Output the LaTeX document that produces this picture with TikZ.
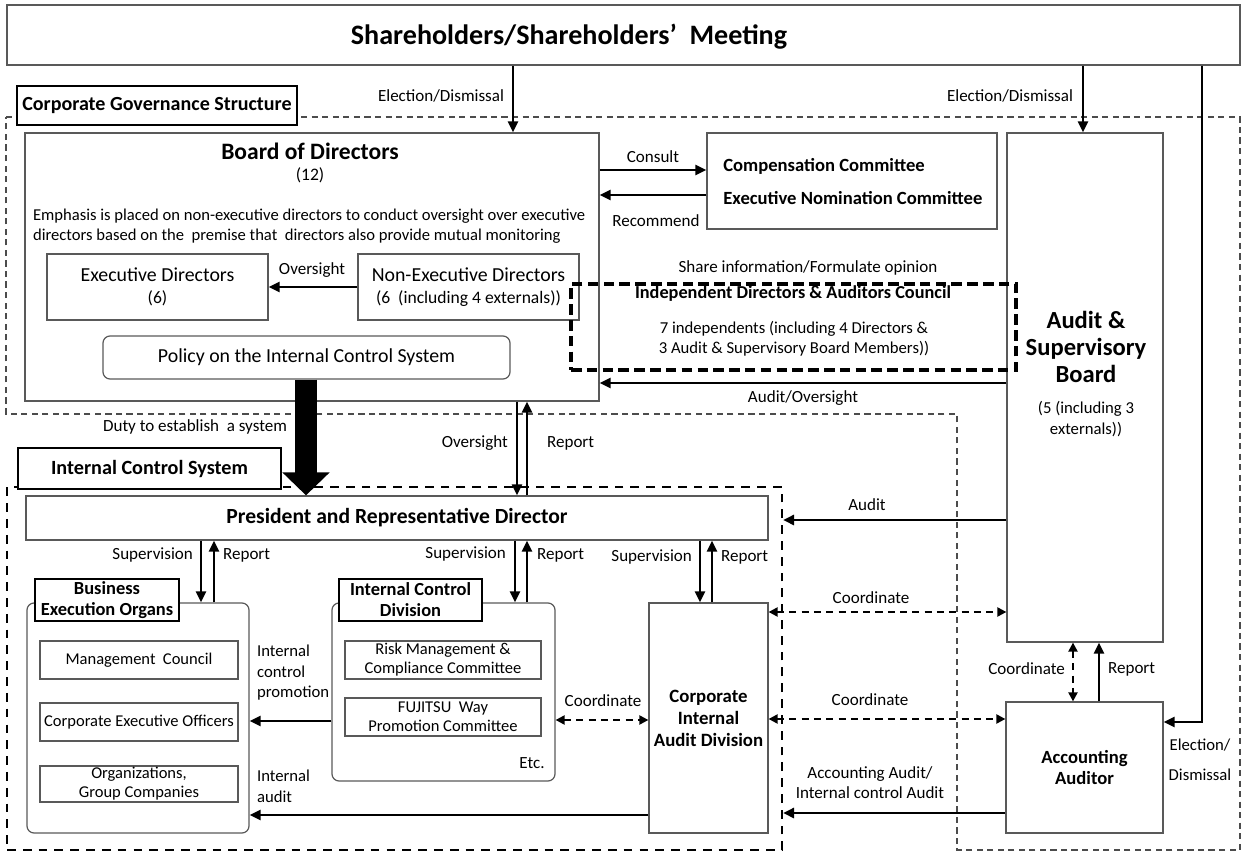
\documentclass[tikz,border=0pt]{standalone}
\usepackage{fontspec}
\setmainfont{Carlito}
\usetikzlibrary{arrows.meta,positioning,fit,calc}
\tikzset{
  box/.style={rectangle, draw=black!65, line width=0.7pt, inner sep=0pt},
  rbox/.style={box, rounded corners=4pt},
  tagbox/.style={rectangle, draw, line width=1.1pt, fill=white, inner sep=0pt},
  txt/.style={inner sep=0pt, align=center, font=\fontsize{11.3}{13.5}\selectfont},
  btxt/.style={inner sep=0pt, align=center, font=\fontsize{11.4}{13}\selectfont\bfseries},
  tagtxt/.style={inner sep=0pt, align=center, font=\fontsize{10.5}{12}\selectfont\bfseries},
  stxt/.style={inner sep=0pt, align=center, font=\fontsize{9.4}{10.8}\selectfont},
  lbl/.style={font=\fontsize{9.7}{11.5}\selectfont, align=center, inner sep=1pt},
  llbl/.style={lbl, align=left, anchor=north west},
  arrow/.style={-{Triangle[length=2.2mm,width=2mm]}, line width=1.5pt},
  dasharrow/.style={{Triangle[length=1.8mm,width=1.8mm]}-{Triangle[length=1.8mm,width=1.8mm]},
                    line width=1.2pt, dash pattern=on 4pt off 3pt},
  cgframe/.style={draw=black!70, line width=0.7pt, dash pattern=on 3.5pt off 2.5pt},
  icsframe/.style={rectangle, inner sep=0pt, draw, line width=1.2pt, dash pattern=on 5pt off 4pt},
  cnframe/.style={rectangle, inner sep=0pt, draw, line width=1.8pt, dash pattern=on 6pt off 3pt}
}

\begin{document}
\begin{tikzpicture}[x=0.02cm, y=-0.02cm]
\useasboundingbox (0,0) rectangle (1242,852);
% corporate governance region
\draw[cgframe] (6,117) -- (1240,117) -- (1240,850) -- (957,850) -- (957,414) -- (6,414) -- cycle;
\node[icsframe, fit={(7,487) (782,850)}] (ics) {};

\node[box, fit={(7,5) (1240,65)}] (sh) {};
\node[txt, font=\fontsize{16}{18}\selectfont\bfseries] (shtxt) at (569,37) {Shareholders/Shareholders’\ \ Meeting};
\node[tagbox, fit={(17,86) (297,125)}] (cgtag) {};
\node[tagtxt, font=\fontsize{11.4}{13}\selectfont\bfseries] at (cgtag.center) {Corporate Governance Structure};

% board of directors
\node[box, fit={(25,133) (599,401)}] (board) {};
\node[btxt, font=\fontsize{13.4}{15}\selectfont\bfseries] (boardtitle) at (310,151) {Board of Directors};
\node[lbl, font=\fontsize{10}{12}\selectfont] (boardnum) at (310,175) {(12)};
\node[llbl, font=\fontsize{9.45}{11.4}\selectfont] (emph) at (31,207)
  {Emphasis is placed on non-executive directors to conduct oversight over executive\\
   directors based on the\ \ premise that\ \ directors also provide mutual monitoring};
\node[box, fit={(47,254) (268,320)}] (exec) {};
\node[txt] at (exec.center) {Executive Directors\\[-1pt]{\fontsize{10}{12}\selectfont (6)}};
\node[box, fit={(358,254) (579,320)}] (nonexec) {};
\node[txt] at (nonexec.center) {Non-Executive Directors\\[-1pt]{\fontsize{10}{12}\selectfont (6\ \ (including 4 externals))}};
\node[rbox, fit={(103,336) (510,379)}] (policy) {};
\node[txt] at (policy.center) {Policy on the Internal Control System};
\draw[arrow] (nonexec.west) -- (exec.east);
\node[lbl] (ovlbl) at (312,270) {Oversight};

% committees
\node[box, fit={(707,133) (997,229)}] (comm) {};
\node[anchor=west, inner sep=0pt, font=\fontsize{10.6}{12}\selectfont\bfseries] (comp) at (723,166) {Compensation Committee};
\node[anchor=west, inner sep=0pt, font=\fontsize{10.6}{12}\selectfont\bfseries] (nomin) at (723,198) {Executive Nomination Committee};
\draw[arrow] (board.east |- 0,170) -- (comm.west |- 0,170);
\draw[arrow] (comm.west |- 0,195) -- (board.east |- 0,195);
\node[lbl] (consult) at (653,157) {Consult};
\node[lbl] (recomm) at (656,221) {Recommend};

% audit & supervisory board
\node[box, fit={(1007,133) (1163,642)}] (asb) {};
\node[btxt, font=\fontsize{14}{15.5}\selectfont\bfseries] (asbtitle) at (1086,347) {Audit \&\\Supervisory\\Board};
\node[lbl, font=\fontsize{9.5}{12}\selectfont] (asbnum) at (1086,419) {(5 (including 3\\externals))};

% independent council
\node[cnframe, fit={(571,284) (1016,370)}] (council) {};
\node[inner sep=0pt, font=\fontsize{10.4}{12}\selectfont\bfseries] (cntitle) at (793,294) {Independent Directors \& Auditors Council};
\node[lbl, font=\fontsize{9.5}{11.5}\selectfont] (cntext) at (794,339) {7 independents (including 4 Directors \&\\3 Audit \& Supervisory Board Members))};
\node[lbl] (share) at (808,268) {Share information/Formulate opinion};
\draw[arrow] (asb.west |- 0,383) -- (board.east |- 0,383);
\node[lbl] (audov) at (803,398) {Audit/Oversight};

% election
\draw[arrow] (sh.south -| 513,0) -- (board.north -| 513,0);
\node[lbl] (el1) at (441,96) {Election/Dismissal};
\draw[arrow] (sh.south -| 1083,0) -- (asb.north -| 1083,0);
\node[lbl] (el2) at (1010,96) {Election/Dismissal};

% accounting auditor
\node[box, fit={(1006,702) (1163,833)}] (aa) {};
\node[btxt, font=\fontsize{10.6}{12.5}\selectfont\bfseries] at (aa.center) {Accounting\\Auditor};
\draw[arrow] (sh.south -| 1202,0) -- (1202,722) -- (aa.east |- 0,722);
\node[lbl, font=\fontsize{9.5}{17}\selectfont] (el3) at (1200,760) {Election/\\Dismissal};
\draw[dasharrow] (asb.south -| 1073,0) -- (aa.north -| 1073,0);
\node[lbl, anchor=east] (coasb) at (1067,669) {Coordinate};
\draw[arrow] (aa.north -| 1099,0) -- (asb.south -| 1099,0);
\node[lbl, anchor=west] (repaa) at (1106,669) {Report};

% internal control system
\node[tagbox, fit={(18,448) (281,489)}] (icstag) {};
\node[tagtxt, font=\fontsize{11.5}{13}\selectfont\bfseries] at (icstag.center) {Internal Control System};
\node[box, fit={(26,496) (768,540)}] (pres) {};
\node[btxt, font=\fontsize{12.3}{14}\selectfont\bfseries] at (397,518) {President and Representative Director};
\draw[-{Triangle[length=0.46cm,width=0.92cm]}, line width=0.44cm] (policy.south -| 306,0) -- (pres.north -| 306,0);
\node[lbl] (duty) at (195,427) {Duty to establish\ \ a system};
\draw[arrow] (board.south -| 517,0) -- (pres.north -| 517,0);
\draw[arrow] (pres.north -| 527,0) -- (board.south -| 527,0);
\node[lbl, anchor=east] (ovpres) at (510,443) {Oversight};
\node[lbl, anchor=west] (reppres) at (545,443) {Report};

% business execution organs
\node[rbox, fit={(27,603) (249,833)}] (beo) {};
\node[tagbox, fit={(35,579) (179,621)}] (beotag) {};
\node[tagtxt] at (beotag.center) {Business\\Execution Organs};
\node[box, fit={(40,641) (238,679)}] (mgmt) {};
\node[stxt] at (mgmt.center) {Management\ \ Council};
\node[box, fit={(40,703) (238,741)}] (ceo) {};
\node[stxt] at (ceo.center) {Corporate Executive Officers};
\node[box, fit={(40,766) (238,802)}] (orgs) {};
\node[stxt] at (orgs.center) {Organizations,\\Group Companies};
\draw[arrow] (pres.south -| 201,0) -- (beo.north -| 201,0);
\draw[arrow] (beo.north -| 214,0) -- (pres.south -| 214,0);
\node[lbl, anchor=east] (supbeo) at (195,555) {Supervision};
\node[lbl, anchor=west] (repbeo) at (221,555) {Report};

% internal control division
\node[rbox, fit={(332,603) (555,781)}] (icd) {};
\node[tagbox, fit={(339,579) (482,621)}] (icdtag) {};
\node[tagtxt] at (icdtag.center) {Internal Control\\Division};
\node[box, fit={(345,641) (541,679)}] (risk) {};
\node[stxt] at (risk.center) {Risk Management \&\\Compliance Committee};
\node[box, fit={(345,698) (541,736)}] (fjw) {};
\node[stxt] at (fjw.center) {FUJITSU\ \ Way\\Promotion Committee};
\node[lbl] (etc) at (532,763) {Etc.};
\draw[arrow] (pres.south -| 515,0) -- (icd.north -| 515,0);
\draw[arrow] (icd.north -| 527,0) -- (pres.south -| 527,0);
\node[lbl, anchor=east] (supicd) at (508,554) {Supervision};
\node[lbl, anchor=west] (repicd) at (535,555) {Report};

% corporate internal audit division
\node[box, fit={(649,603) (768,833)}] (ciad) {};
\node[btxt, font=\fontsize{10.7}{12.5}\selectfont\bfseries] at (ciad.center) {Corporate\\Internal\\Audit Division};
\draw[arrow] (pres.south -| 700,0) -- (ciad.north -| 700,0);
\draw[arrow] (ciad.north -| 712,0) -- (pres.south -| 712,0);
\node[lbl, anchor=east] (supciad) at (694,557) {Supervision};
\node[lbl, anchor=west] (repciad) at (719,557) {Report};

% flows inside
\draw[arrow] (icd.west |- 0,721) -- (beo.east |- 0,721);
\node[llbl, font=\fontsize{9.5}{11.7}\selectfont] (icp) at (255,643) {Internal\\control\\promotion};
\draw[arrow] (ciad.west |- 0,815) -- (beo.east |- 0,815);
\node[llbl, font=\fontsize{9.5}{11.7}\selectfont] (ia) at (255,768) {Internal\\audit};
\draw[dasharrow] (icd.east |- 0,720) -- (ciad.west |- 0,720);
\node[lbl] (coicd) at (603,701) {Coordinate};

% flows from the right
\draw[arrow] (asb.west |- 0,520) -- (ics.east |- 0,520);
\node[lbl] (audit) at (867,505) {Audit};
\draw[dasharrow] (ciad.east |- 0,612) -- (asb.west |- 0,612);
\node[lbl] (co1) at (871,598) {Coordinate};
\draw[dasharrow] (ciad.east |- 0,719) -- (aa.west |- 0,719);
\node[lbl] (co2) at (870,700) {Coordinate};
\draw[arrow] (aa.west |- 0,813) -- (ics.east |- 0,813);
\node[lbl] (accaud) at (870,783) {Accounting Audit/\\Internal control Audit};
\end{tikzpicture}
\end{document}
